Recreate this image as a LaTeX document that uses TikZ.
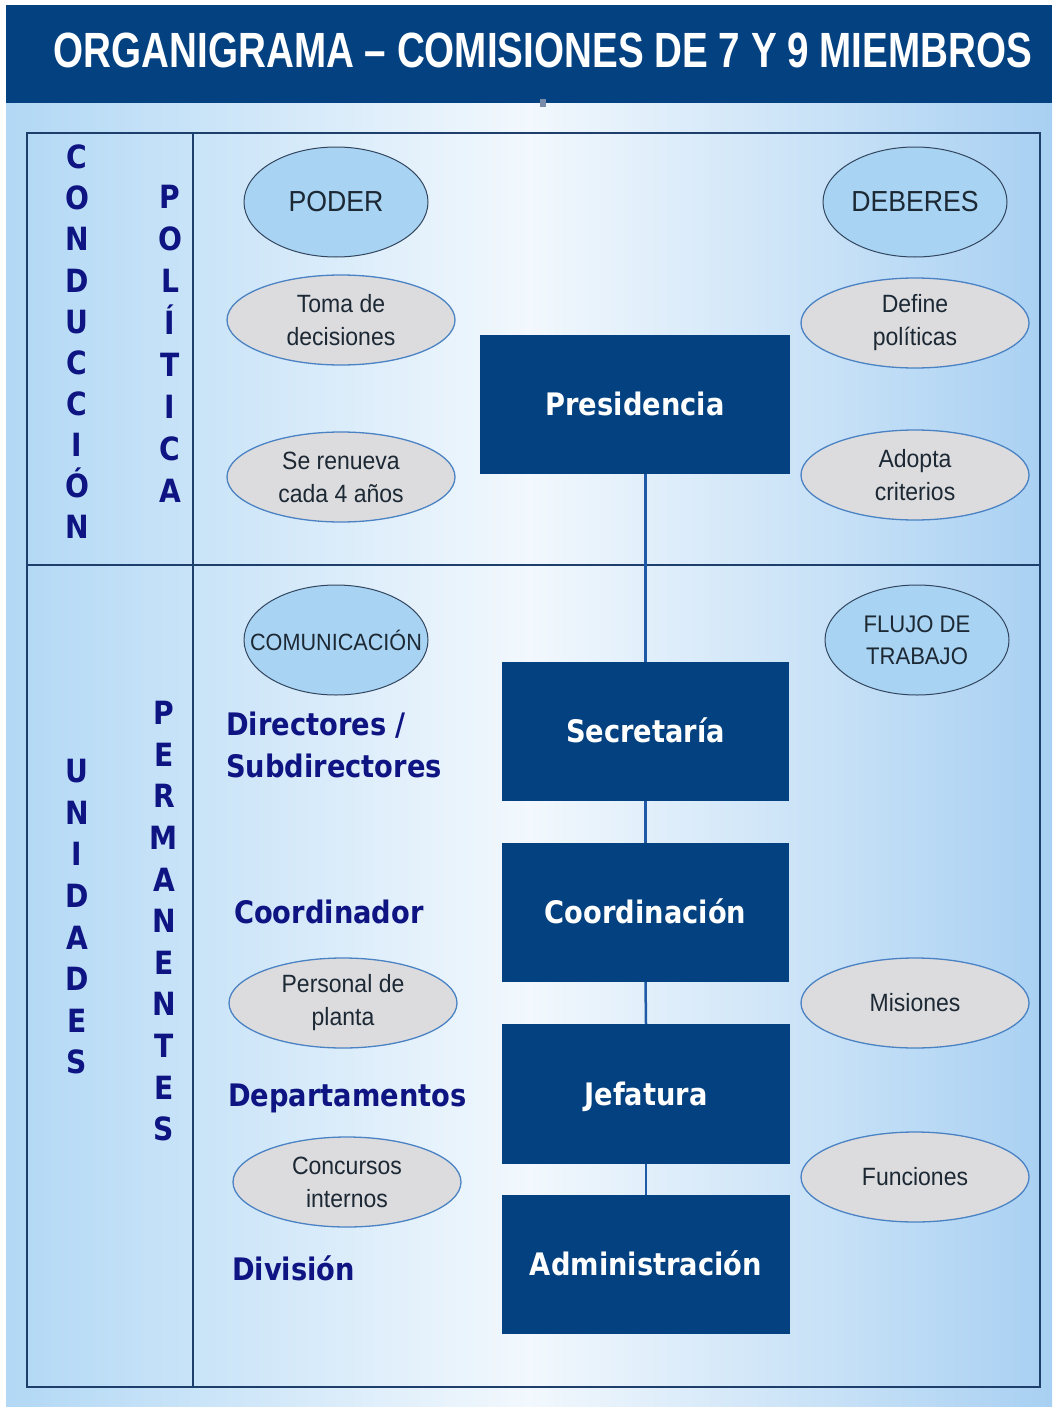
\documentclass[tikz,border=0pt]{standalone}
\usepackage{fontspec}
\setmainfont{Liberation Sans}
\newfontfamily\titlefont[FakeStretch=0.78]{Liberation Sans}
\newfontfamily\boldfont[FakeStretch=0.88]{DejaVu Sans}
\newfontfamily\ellfont[FakeStretch=0.92]{Liberation Sans}
\usetikzlibrary{shapes.geometric}
\definecolor{hdr}{RGB}{4,65,128}
\definecolor{boxblue}{RGB}{4,65,128}
\definecolor{framec}{RGB}{30,62,108}
\definecolor{connc}{RGB}{30,90,165}
\definecolor{navy}{RGB}{14,20,130}
\definecolor{ellb}{RGB}{168,211,242}
\definecolor{ellbdraw}{RGB}{50,70,95}
\definecolor{ellgray}{RGB}{220,220,222}
\definecolor{ellgdraw}{RGB}{74,130,195}
\definecolor{elltext}{RGB}{28,40,52}
\definecolor{bgl}{RGB}{178,216,245}
\definecolor{bgm}{RGB}{242,248,253}
\definecolor{bgr}{RGB}{168,208,242}
\definecolor{handlec}{RGB}{120,140,170}
\tikzset{
  titletext/.style={text=white, inner sep=0, font=\titlefont\bfseries\fontsize{49.5}{49.5}\selectfont},
  frame/.style={draw=framec, line width=2.5pt},
  vlet/.style={text=navy, inner sep=0, text height=23.4pt, text depth=0pt, font=\boldfont\bfseries\fontsize{32}{32}\selectfont},
  orgbox/.style={fill=boxblue, text=white, inner sep=0, text height=22.6pt, text depth=0pt, font=\boldfont\bfseries\fontsize{31}{31}\selectfont},
  conn/.style={draw=connc, line width=2.5pt},
  blueell/.style={ellipse, fill=ellb, draw=ellbdraw, line width=1pt, minimum width=184, minimum height=110, inner sep=0, text=elltext, align=center, font=\ellfont\fontsize{29}{32}\selectfont},
  grayell/.style={ellipse, fill=ellgray, draw=ellgdraw, line width=1.3pt, minimum width=228, minimum height=90, inner sep=0, text=elltext, align=center, font=\ellfont\fontsize{25}{33}\selectfont},
  lbl/.style={text=navy, inner sep=0, anchor=west, align=left, font=\boldfont\bfseries\fontsize{31}{42}\selectfont},
}
\begin{document}
\begin{tikzpicture}[x=1pt,y=-1pt]
\useasboundingbox (0,0) rectangle (1058,1408);
\fill[white] (0,0) rectangle (1058,1408);
\shade[left color=bgl, right color=bgr, middle color=bgm] (6,103) rectangle (1052,1406);
\fill[hdr] (6,5) rectangle (1052,103);
\node[titletext] (title) at (543,50) {ORGANIGRAMA – COMISIONES DE 7 Y 9 MIEMBROS};
\node[fill=handlec, minimum width=6, minimum height=8, inner sep=0] (handle) at (543,103) {};

% table frame
\draw[frame] (27,133) rectangle (1040,1387);
\draw[frame] (193,133) -- (193,1387);
\draw[frame] (27,565) -- (1040,565);

% vertical words
\foreach \l [count=\i from 0] in {C,O,N,D,U,C,C,I,Ó,N}
  \node[vlet] (cond\i) at (77,157+41.1*\i) {\l};
\foreach \l [count=\i from 0] in {P,O,L,Í,T,I,C,A}
  \node[vlet] (pol\i) at (170,197+42*\i) {\l};
\foreach \l [count=\i from 0] in {U,N,I,D,A,D,E,S}
  \node[vlet] (uni\i) at (77,771+41.6*\i) {\l};
\foreach \l [count=\i from 0] in {P,E,R,M,A,N,E,N,T,E,S}
  \node[vlet] (perm\i) at (164,713+41.6*\i) {\l};

% organisation boxes
\node[orgbox, minimum width=310, minimum height=139] (pres) at (635,404.5) {Presidencia};
\node[orgbox, minimum width=287, minimum height=139] (sec) at (645.5,731.5) {Secretaría};
\node[orgbox, minimum width=287, minimum height=139] (coord) at (645.5,912.5) {Coordinación};
\node[orgbox, minimum width=288, minimum height=140] (jef) at (646,1094) {Jefatura};
\node[orgbox, minimum width=288, minimum height=139] (adm) at (646,1264.5) {Administración};

\draw[conn] (pres.south -| sec.north) -- (sec.north);
\draw[conn] (sec.south) -- (coord.north);
\draw[conn] (coord.south) -- (jef.north);
\draw[conn] (jef.south) -- (adm.north);

% blue ellipses
\node[blueell] (poder) at (336,202) {PODER};
\node[blueell] (deberes) at (915,202) {DEBERES};
\node[blueell, font=\ellfont\fontsize{23.5}{28}\selectfont] (comun) at (336,640) {\makebox[0pt][c]{COMUNICACIÓN}};
\node[blueell, font=\ellfont\fontsize{24}{32}\selectfont] (flujo) at (917,640) {FLUJO DE\\TRABAJO};

% gray ellipses
\node[grayell] (toma) at (341,320) {Toma de\\decisiones};
\node[grayell] (renueva) at (341,477) {Se renueva\\cada 4 años};
\node[grayell] (define) at (915,323) {Define\\políticas};
\node[grayell] (adopta) at (915,475) {Adopta\\criterios};
\node[grayell] (personal) at (343,1003) {Personal de\\planta};
\node[grayell] (concursos) at (347,1182) {Concursos\\internos};
\node[grayell] (misiones) at (915,1003) {Misiones};
\node[grayell] (funciones) at (915,1177) {Funciones};

% navy labels
\node[lbl] (dirs) at (226,745) {Directores /\\Subdirectores};
\node[lbl] (coordor) at (234,912) {Coordinador};
\node[lbl] (deptos) at (228,1098) {Departamentos};
\node[lbl] (division) at (232,1268) {División};
\end{tikzpicture}
\end{document}
